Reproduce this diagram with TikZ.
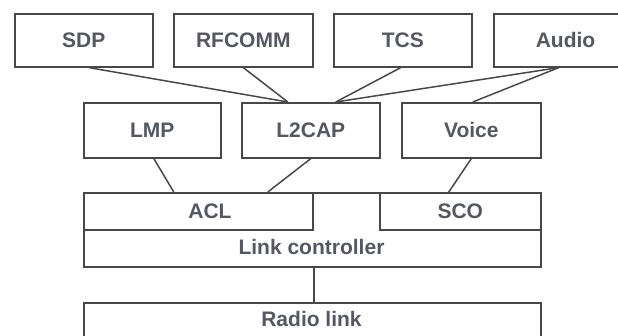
\documentclass[tikz,border=0pt]{standalone}
\usepackage{fontspec}
\setmainfont{Liberation Sans}
\usetikzlibrary{calc}
\definecolor{edgecol}{RGB}{72,72,72}
\definecolor{txtcol}{RGB}{85,88,96}
\tikzset{
  box/.style={draw=edgecol, line width=1.6pt, fill=white, inner sep=0pt, anchor=north west,
    font=\fontsize{21}{25}\selectfont\bfseries, text=txtcol},
  lbl/.style={font=\fontsize{21}{25}\selectfont\bfseries, text=txtcol, inner sep=0pt},
  conn/.style={draw=edgecol, line width=1.5pt}
}
\begin{document}
\begin{tikzpicture}[x=1pt,y=-1pt]
\useasboundingbox (0,0) rectangle (618,336);
\clip (0,0) rectangle (618,336);
% top row
\node[box, minimum width=138pt, minimum height=53pt] (sdp) at (14,13) {SDP};
\node[box, minimum width=139pt, minimum height=53pt] (rfcomm) at (173,13) {RFCOMM};
\node[box, minimum width=138pt, minimum height=53pt] (tcs) at (333,13) {TCS};
\node[box, minimum width=147pt, minimum height=53pt, text width=125pt, align=left] (audio) at (493,13) {\hspace*{31pt}Audio};
% middle row
\node[box, minimum width=137pt, minimum height=55pt] (lmp) at (83,102) {LMP};
\node[box, minimum width=138pt, minimum height=55pt] (l2cap) at (241,102) {L2CAP};
\node[box, minimum width=139pt, minimum height=55pt] (voice) at (401,102) {Voice};
% link controller
\node[box, minimum width=457pt, minimum height=74pt] (lc) at (83,192) {};
\node[lbl] (lctext) at (311.5,247) {Link controller};
\node[box, minimum width=229pt, minimum height=37pt] (acl) at (83,192) {};
\node[lbl] (acltext) at (210,211) {ACL};
\node[box, minimum width=161pt, minimum height=37pt] (sco) at (379,192) {SCO};
% radio link
\node[box, minimum width=457pt, minimum height=50pt] (radio) at (83,302) {};
\node[lbl] (radiotext) at (311.5,318.5) {Radio link};
% connectors
\draw[conn] ([xshift=5pt]sdp.south) -- ([xshift=-23pt]l2cap.north);
\draw[conn] (rfcomm.south) -- ([xshift=-23pt]l2cap.north);
\draw[conn] ([xshift=-2pt]tcs.south) -- ([xshift=25pt]l2cap.north);
\draw[conn] ([xshift=-8.5pt]audio.south) -- ([xshift=25pt]l2cap.north);
\draw[conn] ([xshift=-8.5pt]audio.south) -- ([xshift=1.5pt]voice.north);
\draw[conn] ([xshift=1.5pt]lmp.south) -- ([xshift=-24.5pt]acl.north);
\draw[conn] (l2cap.south) -- ([xshift=69.5pt]acl.north);
\draw[conn] (voice.south) -- ([xshift=-11.5pt]sco.north);
\draw[conn] ([xshift=1.5pt]lc.south) -- ([xshift=1.5pt]radio.north);
\end{tikzpicture}
\end{document}
